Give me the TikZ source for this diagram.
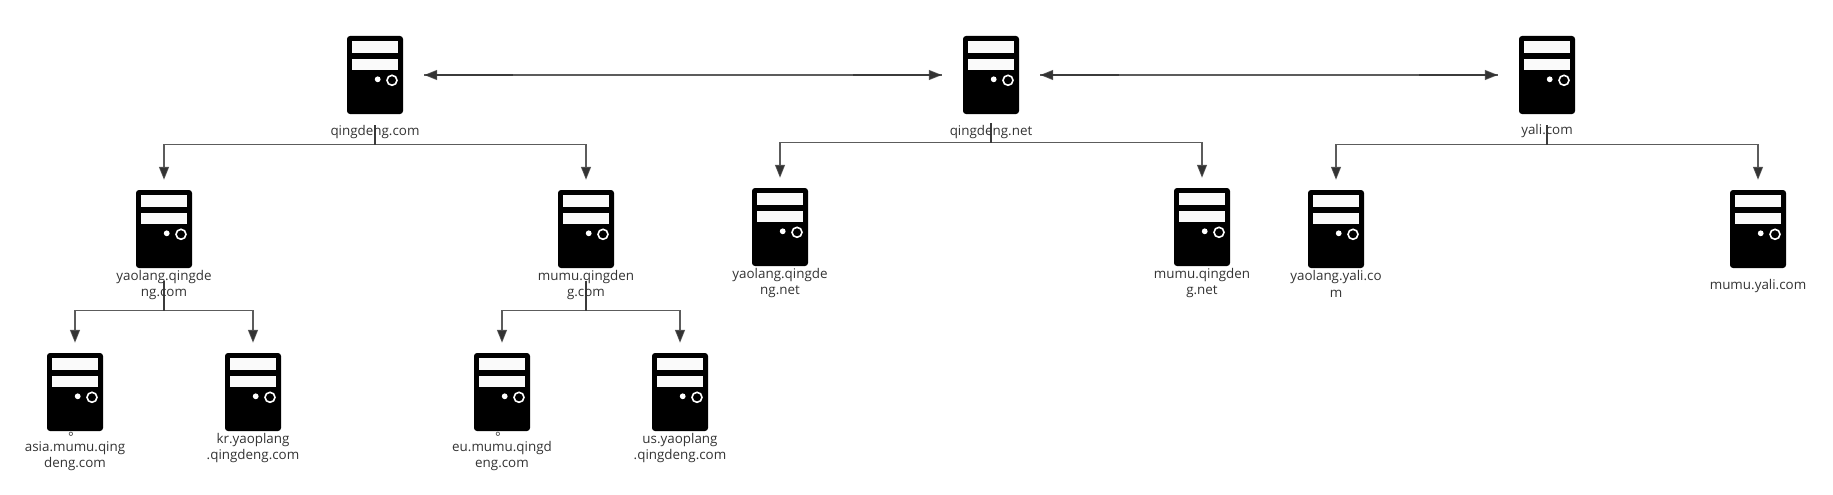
\documentclass[tikz,border=0pt]{standalone}
\usepackage{fontspec}
\setmainfont{Open Sans}
\newfontfamily\cjkf{Noto Sans CJK SC}
\usetikzlibrary{arrows.meta}
\definecolor{ink}{HTML}{333333}
\tikzset{
  srv/.style={fill=black,draw=none,rounded corners=3pt,minimum width=56pt,minimum height=78pt,inner sep=0pt},
  lab/.style={text=ink,align=center,inner sep=0pt,font=\fontsize{13.4}{16.3}\selectfont},
  edge/.style={ink,line width=1.4pt,draw opacity=0.8,-{Triangle[length=13pt,width=10pt]}},
  twoway/.style={ink,line width=1.4pt,draw opacity=0.8,{Triangle[length=13pt,width=10pt]}-{Triangle[length=13pt,width=10pt]},shorten <=21pt,shorten >=21pt},
  dark/.style={ink,line width=1.4pt,draw opacity=0.8}
}
\newcommand\srvat[3]{%
  \node[srv] (#1) at (#2,#3) {};
  \begin{scope}[shift={(#1.center)}]
    \fill[white!98!black] (-22.7,-33.7) rectangle (22.7,-22.3);
    \fill[white!98!black] (-22.7,-16.3) rectangle (22.7,-5);
    \fill[white] (2.7,4.3) circle (2.9pt);
    \draw[white,line width=1.6pt] (17,5.3) circle (5pt);
  \end{scope}}
\newcommand\jd{{\cjkf 。}}
\begin{document}
\begin{tikzpicture}[x=1pt,y=-1pt]
\useasboundingbox (0,0) rectangle (1833,495);
% servers
\srvat{a}{375}{75}
\srvat{b}{991}{75}
\srvat{c}{1547}{75}
\srvat{a1}{164}{229}
\srvat{a2}{586}{229}
\srvat{b1}{780}{227}
\srvat{b2}{1202}{227}
\srvat{c1}{1336}{229}
\srvat{c2}{1758}{229}
\srvat{a11}{75}{392}
\srvat{a12}{253}{392}
\srvat{a21}{502}{392}
\srvat{a22}{680}{392}
% labels
\node[lab] (la) at (375,132) {qingdeng.com};
\node[lab] (lb) at (991,132) {qingdeng.net};
\node[lab] (lc) at (1547,131.5) {yali.com};
\node[lab] (la1) at (164,285) {yaolang.qingde\\ng.com};
\node[lab] (la2) at (586,285) {mumu.qingden\\g.com};
\node[lab] (lb1) at (780,283) {yaolang.qingde\\ng.net};
\node[lab] (lb2) at (1202,283) {mumu.qingden\\g.net};
\node[lab] (lc1) at (1336,284) {yaolang.yali.co\\m};
\node[lab] (lc2) at (1758,286) {mumu.yali.com};
\node[lab] (la11) at (75,451.5) {\jd\\asia.mumu.qing\\deng.com};
\node[lab] (la12) at (253,448) {kr.yaoplang\\.qingdeng.com};
\node[lab] (la21) at (502,451.5) {\jd\\eu.mumu.qingd\\eng.com};
\node[lab] (la22) at (680,448) {us.yaoplang\\.qingdeng.com};
% two-way links
\draw[twoway] (a.east) -- (b.west);
\draw[twoway] (b.east) -- (c.west);
\draw[dark,shorten <=21pt] (a.east) -- ++(110,0);
\draw[dark,shorten <=21pt] (b.west) -- ++(-110,0);
\draw[dark,shorten <=21pt] (b.east) -- ++(100,0);
\draw[dark,shorten <=21pt] (c.west) -- ++(-100,0);
% tree edges
\draw[edge,shorten <=11pt,shorten >=10pt] (a.south) -- ++(0,30) -| (a1.north);
\draw[edge,shorten <=11pt,shorten >=10pt] (a.south) -- ++(0,30) -| (a2.north);
\draw[edge,shorten <=9pt,shorten >=10pt] (b.south) -- ++(0,28) -| (b1.north);
\draw[edge,shorten <=9pt,shorten >=10pt] (b.south) -- ++(0,28) -| (b2.north);
\draw[edge,shorten <=11pt,shorten >=10pt] (c.south) -- ++(0,30) -| (c1.north);
\draw[edge,shorten <=11pt,shorten >=10pt] (c.south) -- ++(0,30) -| (c2.north);
\draw[edge,shorten <=13pt,shorten >=10pt] (a1.south) -- ++(0,42) -| (a11.north);
\draw[edge,shorten <=13pt,shorten >=10pt] (a1.south) -- ++(0,42) -| (a12.north);
\draw[edge,shorten <=13pt,shorten >=10pt] (a2.south) -- ++(0,42) -| (a21.north);
\draw[edge,shorten <=13pt,shorten >=10pt] (a2.south) -- ++(0,42) -| (a22.north);
\end{tikzpicture}
\end{document}
